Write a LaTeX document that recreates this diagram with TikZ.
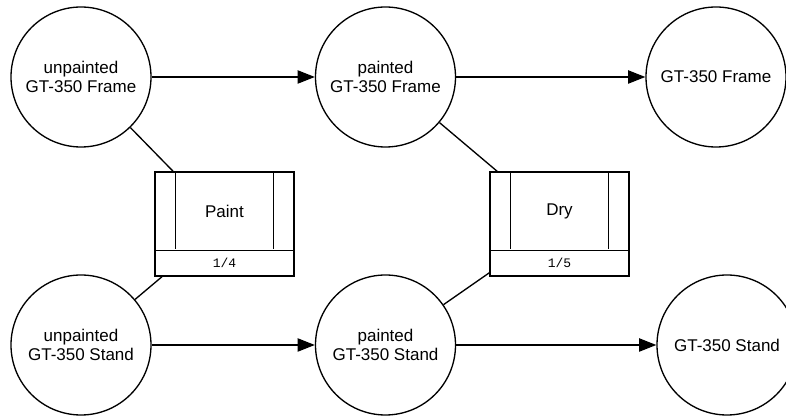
\documentclass[tikz,border=0pt]{standalone}
\usepackage{fontspec}
\setmainfont{Liberation Sans}
\newfontfamily\monofont{Liberation Mono}
\usetikzlibrary{arrows.meta}

\tikzset{
	state/.style={draw,circle,line width=1pt,minimum size=105pt,inner sep=0pt,align=center,font=\fontsize{12.75}{14}\selectfont},
	proc/.style={draw,rectangle,line width=1pt,minimum width=104.25pt,minimum height=78pt,inner sep=0pt},
	flow/.style={line width=1pt,-{Triangle[length=13pt,width=10pt]}},
	link/.style={line width=1pt},
	title/.style={font=\fontsize{12.75}{14}\selectfont},
	count/.style={font=\monofont\fontsize{9.75}{11}\selectfont}
}

\begin{document}
\begin{tikzpicture}[x=0.75pt,y=-0.75pt]
		\useasboundingbox (0,0) rectangle (786,416);

		\node[state] (uframe) at (81,77) {unpainted\\GT-350 Frame};
		\node[state] (pframe) at (385.5,77) {painted\\GT-350 Frame};
		\node[state] (frame) at (716,77) {GT-350 Frame};
		\node[state] (ustand) at (81,345) {unpainted\\GT-350 Stand};
		\node[state] (pstand) at (385.5,345) {painted\\GT-350 Stand};
		\node[state] (stand) at (727,345) {GT-350 Stand};

		\node[proc] (paint) at (224.5,224) {};
		\draw[link] (paint.north west) ++(21,0) -- ++(0,78);
		\draw[link] (paint.north east) ++(-21,0) -- ++(0,78);
		\draw[link] (paint.south west) ++(0,-26) -- ++(139,0);
		\node[title] at (224.5,211) {Paint};
		\node[count] at (224.5,263) {1/4};

		\node[proc] (dry) at (559.5,224) {};
		\draw[link] (dry.north west) ++(21,0) -- ++(0,78);
		\draw[link] (dry.north east) ++(-21,0) -- ++(0,78);
		\draw[link] (dry.south west) ++(0,-26) -- ++(139,0);
		\node[title] at (559.5,211) {Dry};
		\node[count] at (559.5,263) {1/5};

		\draw[flow] (uframe) -- (pframe);
		\draw[flow] (pframe) -- (frame);
		\draw[flow] (ustand) -- (pstand);
		\draw[flow] (pstand) -- (stand);

		\draw[link] (uframe) -- (paint);
		\draw[link] (ustand) -- (paint);
		\draw[link] (pframe) -- (dry);
		\draw[link] (pstand) -- (dry);
\end{tikzpicture}
\end{document}
